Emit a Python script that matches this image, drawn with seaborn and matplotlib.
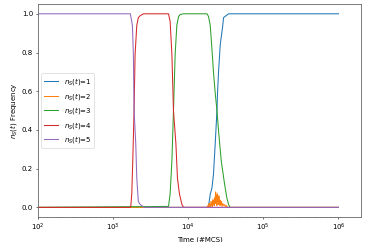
import pandas as pd
import matplotlib
matplotlib.use("Agg")
import matplotlib.pyplot as plt
import seaborn as sns

# frequency of each n_S(t) value over time
t1 = [1, 100, 18500, 19050, 19650, 20700, 21700, 22900, 24150, 24600, 25350, 26700, 28650, 29570, 34450, 1e6]
v1 = [0, 0, 0, 0.03, 0.068, 0.1, 0.17, 0.33, 0.5, 0.595, 0.70, 0.84, 0.93, 0.98, 1.0, 1.0]

t2 = [1, 100, 17800, 18300, 18700, 19000, 19300, 19600, 19900, 20200, 20500, 20800, 21100,
      21400, 21700, 22000, 22300, 22600, 22900, 23200, 23500, 23800, 24100,
      24400, 24700, 25000, 25300, 25600, 25900, 26200, 26500, 26800, 27200,
      27700, 28200, 28800, 29500, 30300, 31200, 32200, 33300, 34500, 1e6]
v2 = [0, 0, 0, 0.01, 0.0, 0.02, 0.005, 0.015, 0.0, 0.03, 0.01, 0.025, 0.005,
      0.04, 0.015, 0.035, 0.01, 0.05, 0.02, 0.08, 0.03, 0.06, 0.01,
      0.07, 0.025, 0.05, 0.015, 0.06, 0.02, 0.04, 0.01, 0.035, 0.015,
      0.03, 0.005, 0.02, 0.01, 0.015, 0.005, 0.01, 0.0, 0.0, 0]

t3 = [1, 100, 5470, 5750, 6070, 6370, 6710, 7060, 7430, 7820, 8650,
      17800, 18650, 19650, 20700, 21700, 22900, 24150, 25350, 27550, 30500, 32800, 34450, 36000, 1e6]
v3 = [0, 0, 0.005, 0.07, 0.24, 0.5, 0.79, 0.94, 0.985, 0.996, 1.0,
      1.0, 0.986, 0.94, 0.82, 0.70, 0.59, 0.5, 0.396, 0.24, 0.12, 0.047, 0.016, 0, 0]

t4 = [1, 100, 1000, 1690, 1722, 1775, 1830, 1905, 1965, 2070, 2170, 2290, 2540,
      5470, 5750, 6070, 6370, 6860, 7200, 7650, 8240, 8650, 1e6]
v4 = [0, 0, 0, 0, 0.005, 0.07, 0.24, 0.5, 0.79, 0.94, 0.98, 0.99, 1.0,
      1.0, 0.96, 0.79, 0.5, 0.33, 0.15, 0.07, 0.016, 0.0, 0]

t5 = [1, 100, 1000, 1700, 1810, 1865, 1905, 2005, 2070, 2170, 2290, 2490, 2600, 1e6]
v5 = [1, 1, 1, 1.0, 0.94, 0.79, 0.5, 0.33, 0.15, 0.03, 0.016, 0.005, 0, 0]

labels = ["$n_S(t)$=1", "$n_S(t)$=2", "$n_S(t)$=3", "$n_S(t)$=4", "$n_S(t)$=5"]
colors = ["#1f77b4", "#ff7f0e", "#2ca02c", "#d62728", "#9467bd"]

# long format table for seaborn
frames = []
for lab, t, v in zip(labels, [t1, t2, t3, t4, t5], [v1, v2, v3, v4, v5]):
    frames.append(pd.DataFrame({"time": t, "freq": v, "state": lab}))
df = pd.concat(frames, ignore_index=True)

fig, ax = plt.subplots(figsize=(7.36, 4.84), dpi=50)
sns.lineplot(data=df, x="time", y="freq", hue="state", hue_order=labels,
             palette=colors, estimator=None, sort=True, linewidth=1.5, ax=ax)
ax.set_xscale("log")
ax.set_xlim(left=100)
ax.set_xlabel("Time (#MCS)")
ax.set_ylabel("$n_S(t)$ Frequency")
ax.legend(loc="center left", title=None)
for sp in ax.spines.values():
    sp.set_color("0.4")
    sp.set_linewidth(1.2)

fig.subplots_adjust(left=0.103, right=0.981, top=0.983, bottom=0.103)
fig.savefig("out.png", dpi=50)
